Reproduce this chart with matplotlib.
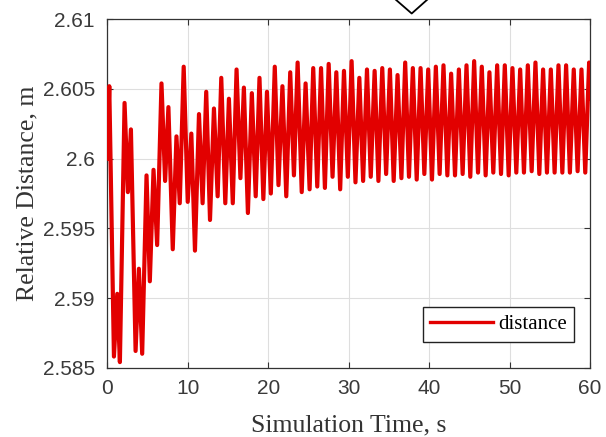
import matplotlib
matplotlib.use("Agg")
import matplotlib.pyplot as plt
from matplotlib.lines import Line2D

# Data: turning points of the distance trace
time = [0.0, 0.25, 0.83, 1.24, 1.57, 2.15, 2.56, 2.94, 3.52, 3.93, 4.34, 4.88,
        5.29, 5.75, 6.20, 6.74, 7.19, 7.60, 8.14, 8.60, 9.01, 9.50, 10.0, 10.45,
        10.9, 11.4, 11.85, 12.3, 12.77, 13.26, 13.72, 14.17, 14.67, 15.12, 15.6,
        16.07, 16.55, 16.98, 17.48, 17.97, 18.45, 18.92, 19.4, 19.85, 20.33,
        20.82, 21.28, 21.77, 22.25, 22.74, 23.2, 23.66, 24.17, 24.65, 25.15,
        25.6, 26.1, 26.57, 27.05, 27.52, 28.0, 28.47, 28.95, 29.42, 29.9, 30.37,
        30.85, 31.33, 31.8, 32.28, 32.75, 33.23, 33.7, 34.18, 34.66, 35.13,
        35.6, 36.08, 36.56, 37.03, 37.5, 37.98, 38.46, 38.94, 39.41, 39.89,
        40.36, 40.84, 41.31, 41.79, 42.27, 42.74, 43.22, 43.7, 44.17, 44.65,
        45.12, 45.6, 46.08, 46.55, 47.03, 47.5, 47.98, 48.46, 48.94, 49.41,
        49.89, 50.36, 50.84, 51.32, 51.79, 52.27, 52.75, 53.22, 53.7, 54.17,
        54.65, 55.13, 55.6, 56.08, 56.56, 57.03, 57.5, 57.98, 58.46, 58.94,
        59.41, 59.89, 60.0]
distance = [2.6000, 2.6052, 2.5858, 2.5903, 2.5854, 2.6040, 2.5976, 2.6021,
            2.5862, 2.5921, 2.5860, 2.5988, 2.5912, 2.5992, 2.5938, 2.6054,
            2.5984, 2.6037, 2.5935, 2.6016, 2.5968, 2.6066, 2.5969, 2.6018,
            2.5934, 2.6032, 2.5968, 2.6048, 2.5956, 2.6036, 2.5973, 2.6058,
            2.5968, 2.6043, 2.5968, 2.6064, 2.5986, 2.6051, 2.5961, 2.6047,
            2.5973, 2.6058, 2.5971, 2.6048, 2.5975, 2.6066, 2.5981, 2.6052,
            2.5973, 2.6062, 2.5988, 2.6069, 2.5976, 2.6054, 2.5978, 2.6065,
            2.5980, 2.6065, 2.5979, 2.6068, 2.5987, 2.6062, 2.5978, 2.6063,
            2.5987, 2.6070, 2.5983, 2.6058, 2.5984, 2.6064, 2.5987, 2.6063,
            2.5984, 2.6065, 2.5989, 2.6064, 2.5984, 2.6060, 2.5986, 2.6069,
            2.5987, 2.6065, 2.5985, 2.6065, 2.5989, 2.6064, 2.5985, 2.6066,
            2.5989, 2.6067, 2.5988, 2.6061, 2.5988, 2.6064, 2.5989, 2.6067,
            2.5987, 2.6070, 2.5990, 2.6066, 2.5988, 2.6062, 2.5990, 2.6067,
            2.5989, 2.6067, 2.5988, 2.6065, 2.5990, 2.6064, 2.5990, 2.6067,
            2.5991, 2.6069, 2.5989, 2.6064, 2.5990, 2.6064, 2.5990, 2.6067,
            2.5990, 2.6067, 2.5990, 2.6064, 2.5991, 2.6064, 2.5990, 2.6069,
            2.6043]

xticks = [0, 10, 20, 30, 40, 50, 60]
yticks = [2.585, 2.59, 2.595, 2.6, 2.605, 2.61]
ytick_labels = ["2.585", "2.59", "2.595", "2.6", "2.605", "2.61"]

fig = plt.figure(figsize=(6.06, 4.37), dpi=100)
ax = fig.add_axes([0.177, 0.1586, 0.7966, 0.7972])

ax.plot(time, distance, color="#e20000", lw=3.0, solid_joinstyle="round",
        label="distance", zorder=3)

ax.set_xlim(0, 60)
ax.set_ylim(2.585, 2.61)
ax.set_xticks(xticks)
ax.set_yticks(yticks)
ax.set_yticklabels(ytick_labels)

# matlab-ish look
ax.grid(True, color="#dedede", lw=0.8)
ax.set_axisbelow(True)
ax.tick_params(direction="in", top=True, right=True, length=4, width=0.8,
               labelsize=15, labelcolor="#3a3a3a", color="#333333")
ax.tick_params(axis="x", pad=8)
ax.tick_params(axis="y", pad=9)
for tl in ax.get_xticklabels() + ax.get_yticklabels():
    tl.set_fontfamily("Liberation Sans")
for s in ax.spines.values():
    s.set_color("#333333")
    s.set_linewidth(0.9)

ax.set_xlabel("Simulation Time, s", family="Liberation Serif", fontsize=18.5,
              color="#333333", labelpad=12)
ax.set_ylabel("Relative Distance, m", family="Liberation Serif", fontsize=18.5,
              color="#333333", labelpad=3)

leg = ax.legend(loc="lower right", bbox_to_anchor=(0.9665, 0.075),
                prop={"family": "Liberation Serif", "size": 15},
                fancybox=False, framealpha=1, edgecolor="#222222",
                handlelength=3.0, handletextpad=0.25, borderpad=0.35,
                borderaxespad=0)
leg.get_frame().set_linewidth(1.0)
for h in leg.get_lines():
    h.set_linewidth(2.4)

# partial diamond cut off at the top edge
W, H = 606, 437
dx = [395 / W, 411.7 / W, 428 / W]
dy = [1 - (-1) / H, 1 - 13.5 / H, 1 - (-1) / H]
fig.add_artist(Line2D(dx, dy, transform=fig.transFigure, color="black", lw=1.3))

fig.savefig("out.png", dpi=100)
